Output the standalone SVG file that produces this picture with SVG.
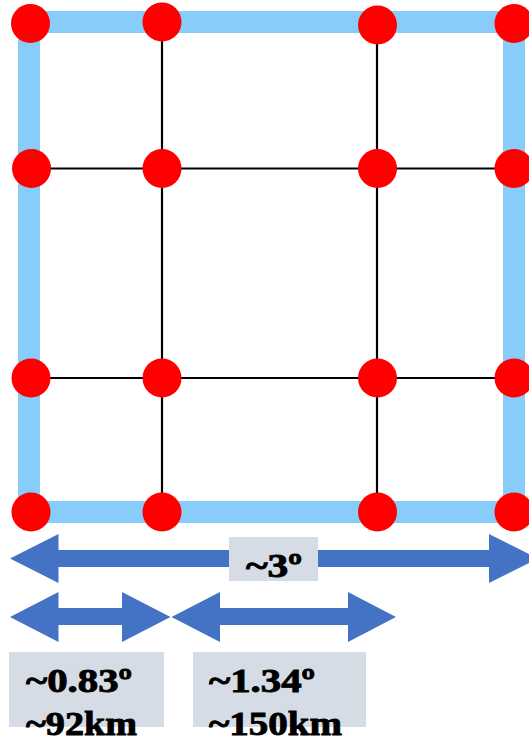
<svg xmlns="http://www.w3.org/2000/svg" width="529" height="739" viewBox="0 0 529 739">
<style>
.n{fill:#FF0000}
.g{stroke:#000;stroke-width:2.2;fill:none}
.b{fill:none;stroke:#88CCFA;stroke-width:22}
.a{fill:#4472C4}
.box{fill:#D6DCE5}
.t{font-family:"Liberation Serif","DejaVu Serif",serif;font-weight:bold;font-size:33px;fill:#000;stroke:#000;stroke-width:0.9}
</style>
<rect id="border" class="b" x="29" y="22" width="485" height="490"/>
<g id="connectors">
<line class="g" x1="162" y1="22" x2="162" y2="512"/>
<line class="g" x1="377" y1="25" x2="377" y2="512"/>
<line class="g" x1="30" y1="168.5" x2="514" y2="168.5"/>
<line class="g" x1="30" y1="378" x2="514" y2="378"/>
</g>
<g id="n11"><circle class="n" cx="30.5" cy="23.5" r="19.5"/></g>
<g id="n12"><circle class="n" cx="162" cy="22" r="19.5"/></g>
<g id="n13"><circle class="n" cx="377.5" cy="25" r="19.5"/></g>
<g id="n14"><circle class="n" cx="514" cy="23.5" r="19.5"/></g>
<g id="n21"><circle class="n" cx="31.5" cy="168.5" r="19.5"/></g>
<g id="n22"><circle class="n" cx="162" cy="168.5" r="19.5"/></g>
<g id="n23"><circle class="n" cx="377.5" cy="168.5" r="19.5"/></g>
<g id="n24"><circle class="n" cx="514" cy="168.5" r="19.5"/></g>
<g id="n31"><circle class="n" cx="31" cy="378" r="19.5"/></g>
<g id="n32"><circle class="n" cx="162" cy="378" r="19.5"/></g>
<g id="n33"><circle class="n" cx="377.5" cy="378" r="19.5"/></g>
<g id="n34"><circle class="n" cx="514" cy="378" r="19.5"/></g>
<g id="n41"><circle class="n" cx="31" cy="512" r="19.5"/></g>
<g id="n42"><circle class="n" cx="162" cy="512" r="19.5"/></g>
<g id="n43"><circle class="n" cx="377.5" cy="512" r="19.5"/></g>
<g id="n44"><circle class="n" cx="514" cy="512" r="19.5"/></g>
<g id="arrow-total">
<polygon class="a" points="10,558.5 58.5,534 58.5,550 489,550 489,534 538,558.5 489,583 489,567 58.5,567 58.5,583"/>
<rect class="box" x="229" y="537" width="89" height="44"/>
<text class="t" x="246" y="577" textLength="56" lengthAdjust="spacingAndGlyphs">~3º</text>
</g>
<g id="arrow-edge">
<polygon class="a" points="10,617 58.5,592 58.5,608 122,608 122,592 170.5,617 122,642 122,625 58.5,625 58.5,642"/>
</g>
<g id="arrow-inner">
<polygon class="a" points="171.5,617 220,592 220,608 348,608 348,592 396,617 348,642 348,625 220,625 220,642"/>
</g>
<g id="label-edge">
<rect class="box" x="9" y="652" width="155" height="75"/>
<text class="t" x="26" y="692" textLength="106" lengthAdjust="spacingAndGlyphs">~0.83º</text>
<text class="t" x="26" y="735" textLength="111" lengthAdjust="spacingAndGlyphs">~92km</text>
</g>
<g id="label-inner">
<rect class="box" x="193" y="652" width="173" height="75"/>
<text class="t" x="209" y="692" textLength="106" lengthAdjust="spacingAndGlyphs">~1.34º</text>
<text class="t" x="209" y="735" textLength="133" lengthAdjust="spacingAndGlyphs">~150km</text>
</g>
</svg>
